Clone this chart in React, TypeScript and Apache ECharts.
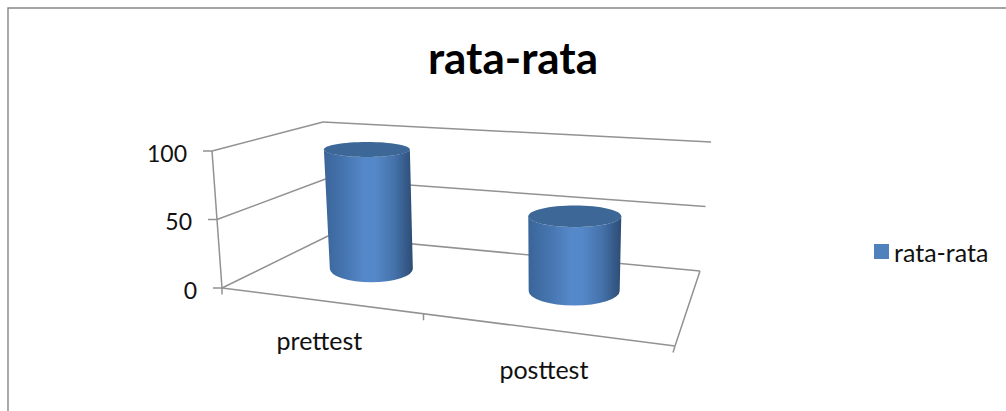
import React, { useEffect, useRef } from "react";
import * as echarts from "echarts";

const seriesName = "rata-rata";
const chartTitle = "rata-rata";
const categories = ["prettest", "posttest"];
const values = [93, 54];
const valueTicks = [0, 50, 100];

type Pt = [number, number];
const FONT = "Lato, 'Open Sans', sans-serif";
const LINE = "#929292";

// Corners of the floor and ceiling planes of the 3D box: front-left, front-right, back-right, back-left
const FLOOR: Pt[] = [[222, 288], [675, 346], [700, 271], [328, 236]];
const CEILING: Pt[] = [[212, 151], [680, 182], [711, 142], [323, 122]];

// Projective map from the unit square onto a quadrilateral
function makeHomography(q: Pt[]) {
  const [[x0, y0], [x1, y1], [x2, y2], [x3, y3]] = q;
  const dx1 = x1 - x2, dx2 = x3 - x2, sx = x0 - x1 + x2 - x3;
  const dy1 = y1 - y2, dy2 = y3 - y2, sy = y0 - y1 + y2 - y3;
  const den = dx1 * dy2 - dx2 * dy1;
  const g = (sx * dy2 - dx2 * sy) / den;
  const h = (dx1 * sy - sx * dy1) / den;
  const a = x1 - x0 + g * x1, b = x3 - x0 + h * x3;
  const d = y1 - y0 + g * y1, e = y3 - y0 + h * y3;
  return (u: number, v: number): Pt => {
    const w = g * u + h * v + 1;
    return [(a * u + b * v + x0) / w, (d * u + e * v + y0) / w];
  };
}
const floorAt = makeHomography(FLOOR);
const ceilingAt = makeHomography(CEILING);

// u: along the category axis, depth: front to back, t: share of the value axis
function project(u: number, depth: number, t: number): Pt {
  const f = floorAt(u, depth);
  const c = ceilingAt(u, depth);
  return [f[0] + (c[0] - f[0]) * t, f[1] + (c[1] - f[1]) * t];
}

function toUnit(params: any, p: number[]) {
  const cs = params.coordSys;
  return { u: (p[0] - cs.x) / cs.width, t: (cs.y + cs.height - p[1]) / cs.height };
}

const line = (a: Pt, b: Pt, width = 1.5) => ({
  type: "line",
  shape: { x1: a[0], y1: a[1], x2: b[0], y2: b[1] },
  style: { stroke: LINE, lineWidth: width },
  silent: true,
});

const label = (text: string, x: number, y: number, align: string, size: number) => ({
  type: "text",
  style: { text, x, y, fill: "#111", fontFamily: FONT, fontSize: size, textAlign: align, textVerticalAlign: "middle" },
  silent: true,
});

// Walls, floor, ticks and tick labels of the box
function renderBox(params: any, api: any) {
  const children: any[] = [];
  valueTicks.forEach((v) => {
    const { t } = toUnit(params, api.coord([0, v]));
    const front = project(0, 0, t);
    const corner = project(0, 1, t);
    const right = project(1, 1, t);
    children.push(line(front, corner), line(corner, right));
    children.push(line([front[0] - 9, front[1]], front));
    children.push(label(String(v), front[0] - 25, front[1] + 1.5, "right", 23));
  });
  children.push(line(project(0, 0, 0), project(0, 0, 1)));
  const fl = project(0, 0, 0), fr = project(1, 0, 0), br = project(1, 1, 0);
  children.push(line(fl, fr), line(fr, br));
  [0, 0.5, 1].forEach((u) => {
    const p = project(u, 0, 0);
    children.push(line(p, [p[0] - (u === 1 ? 2 : 0), p[1] + 6.5]));
  });
  categories.forEach((name, i) => {
    const { u } = toUnit(params, api.coord([i, 0]));
    const p = project(u, 0, 0);
    children.push(label(name, p[0] + 2, p[1] + 40, "center", 25));
  });
  return { type: "group", children };
}

const SIDE_STOPS = [
  { offset: 0, color: "#3a6599" },
  { offset: 0.25, color: "#4776b1" },
  { offset: 0.45, color: "#5588c9" },
  { offset: 0.58, color: "#5588c9" },
  { offset: 0.8, color: "#4471a9" },
  { offset: 1, color: "#2d4c74" },
];

// One cylinder: body with a horizontal shading gradient and a flat lid
function renderCylinder(params: any, api: any) {
  const { u, t } = toUnit(params, api.coord([api.value(0), api.value(1)]));
  const bottomC = project(u, 0.5, 0);
  bottomC[0] += 3;
  const topC = project(u, 0.5, t);
  // Nearer cylinders appear wider; the lid is a little wider than the base
  const aB = 41.5 + 8 * (u - 0.25);
  const aT = 43 + 7 * (u - 0.25);
  const bB = bottomC[1] * 0.05, bT = topC[1] * 0.05;
  const d =
    `M${topC[0] - aT} ${topC[1]} L${bottomC[0] - aB} ${bottomC[1]} ` +
    `A${aB} ${bB} 0 0 0 ${bottomC[0] + aB} ${bottomC[1]} ` +
    `L${topC[0] + aT} ${topC[1]} ` +
    `A${aT} ${bT} 0 0 1 ${topC[0] - aT} ${topC[1]} Z`;
  return {
    type: "group",
    children: [
      {
        type: "path",
        shape: { pathData: d },
        style: { fill: new echarts.graphic.LinearGradient(0, 0, 1, 0, SIDE_STOPS) },
      },
      {
        type: "ellipse",
        shape: { cx: topC[0], cy: topC[1], rx: aT, ry: bT },
        style: { fill: "#3c6797" },
      },
    ],
  };
}

export default function App() {
  const ref = useRef<HTMLDivElement>(null);
  useEffect(() => {
    const chart = echarts.init(ref.current!, undefined, { renderer: "svg" });
    chart.setOption({
      animation: false,
      backgroundColor: "#fff",
      title: {
        text: chartTitle,
        left: 508,
        top: 30,
        textAlign: "center",
        textStyle: { fontFamily: FONT, fontSize: 44, fontWeight: "bold", color: "#000" },
      },
      legend: {
        data: [seriesName],
        left: 869,
        top: 234,
        icon: "rect",
        itemWidth: 15,
        itemHeight: 15,
        itemGap: 4,
        textStyle: { fontFamily: FONT, fontSize: 25, color: "#111" },
      },
      grid: { left: 100, right: 100, top: 100, bottom: 100 },
      xAxis: { type: "category", data: categories, show: false },
      yAxis: { type: "value", min: 0, max: 100, interval: 50, show: false },
      graphic: [
        {
          type: "polyline",
          shape: { points: [[8, 411], [8, 8], [1006, 8]] },
          style: { stroke: "#868686", lineWidth: 1.4, fill: "none" },
          silent: true,
        },
      ],
      series: [
        {
          type: "custom",
          name: "box",
          silent: true,
          z: 1,
          data: [[0, 0]],
          encode: { x: 0, y: 1 },
          renderItem: renderBox,
        },
        {
          type: "custom",
          name: seriesName,
          z: 2,
          silent: true,
          itemStyle: { color: "#4f81bd" },
          data: values.map((v, i) => [i, v]),
          encode: { x: 0, y: 1 },
          renderItem: renderCylinder,
        },
      ],
    });
    return () => chart.dispose();
  }, []);
  return <div ref={ref} style={{ position: "fixed", left: 0, top: 0, width: 1006, height: 411 }} />;
}
